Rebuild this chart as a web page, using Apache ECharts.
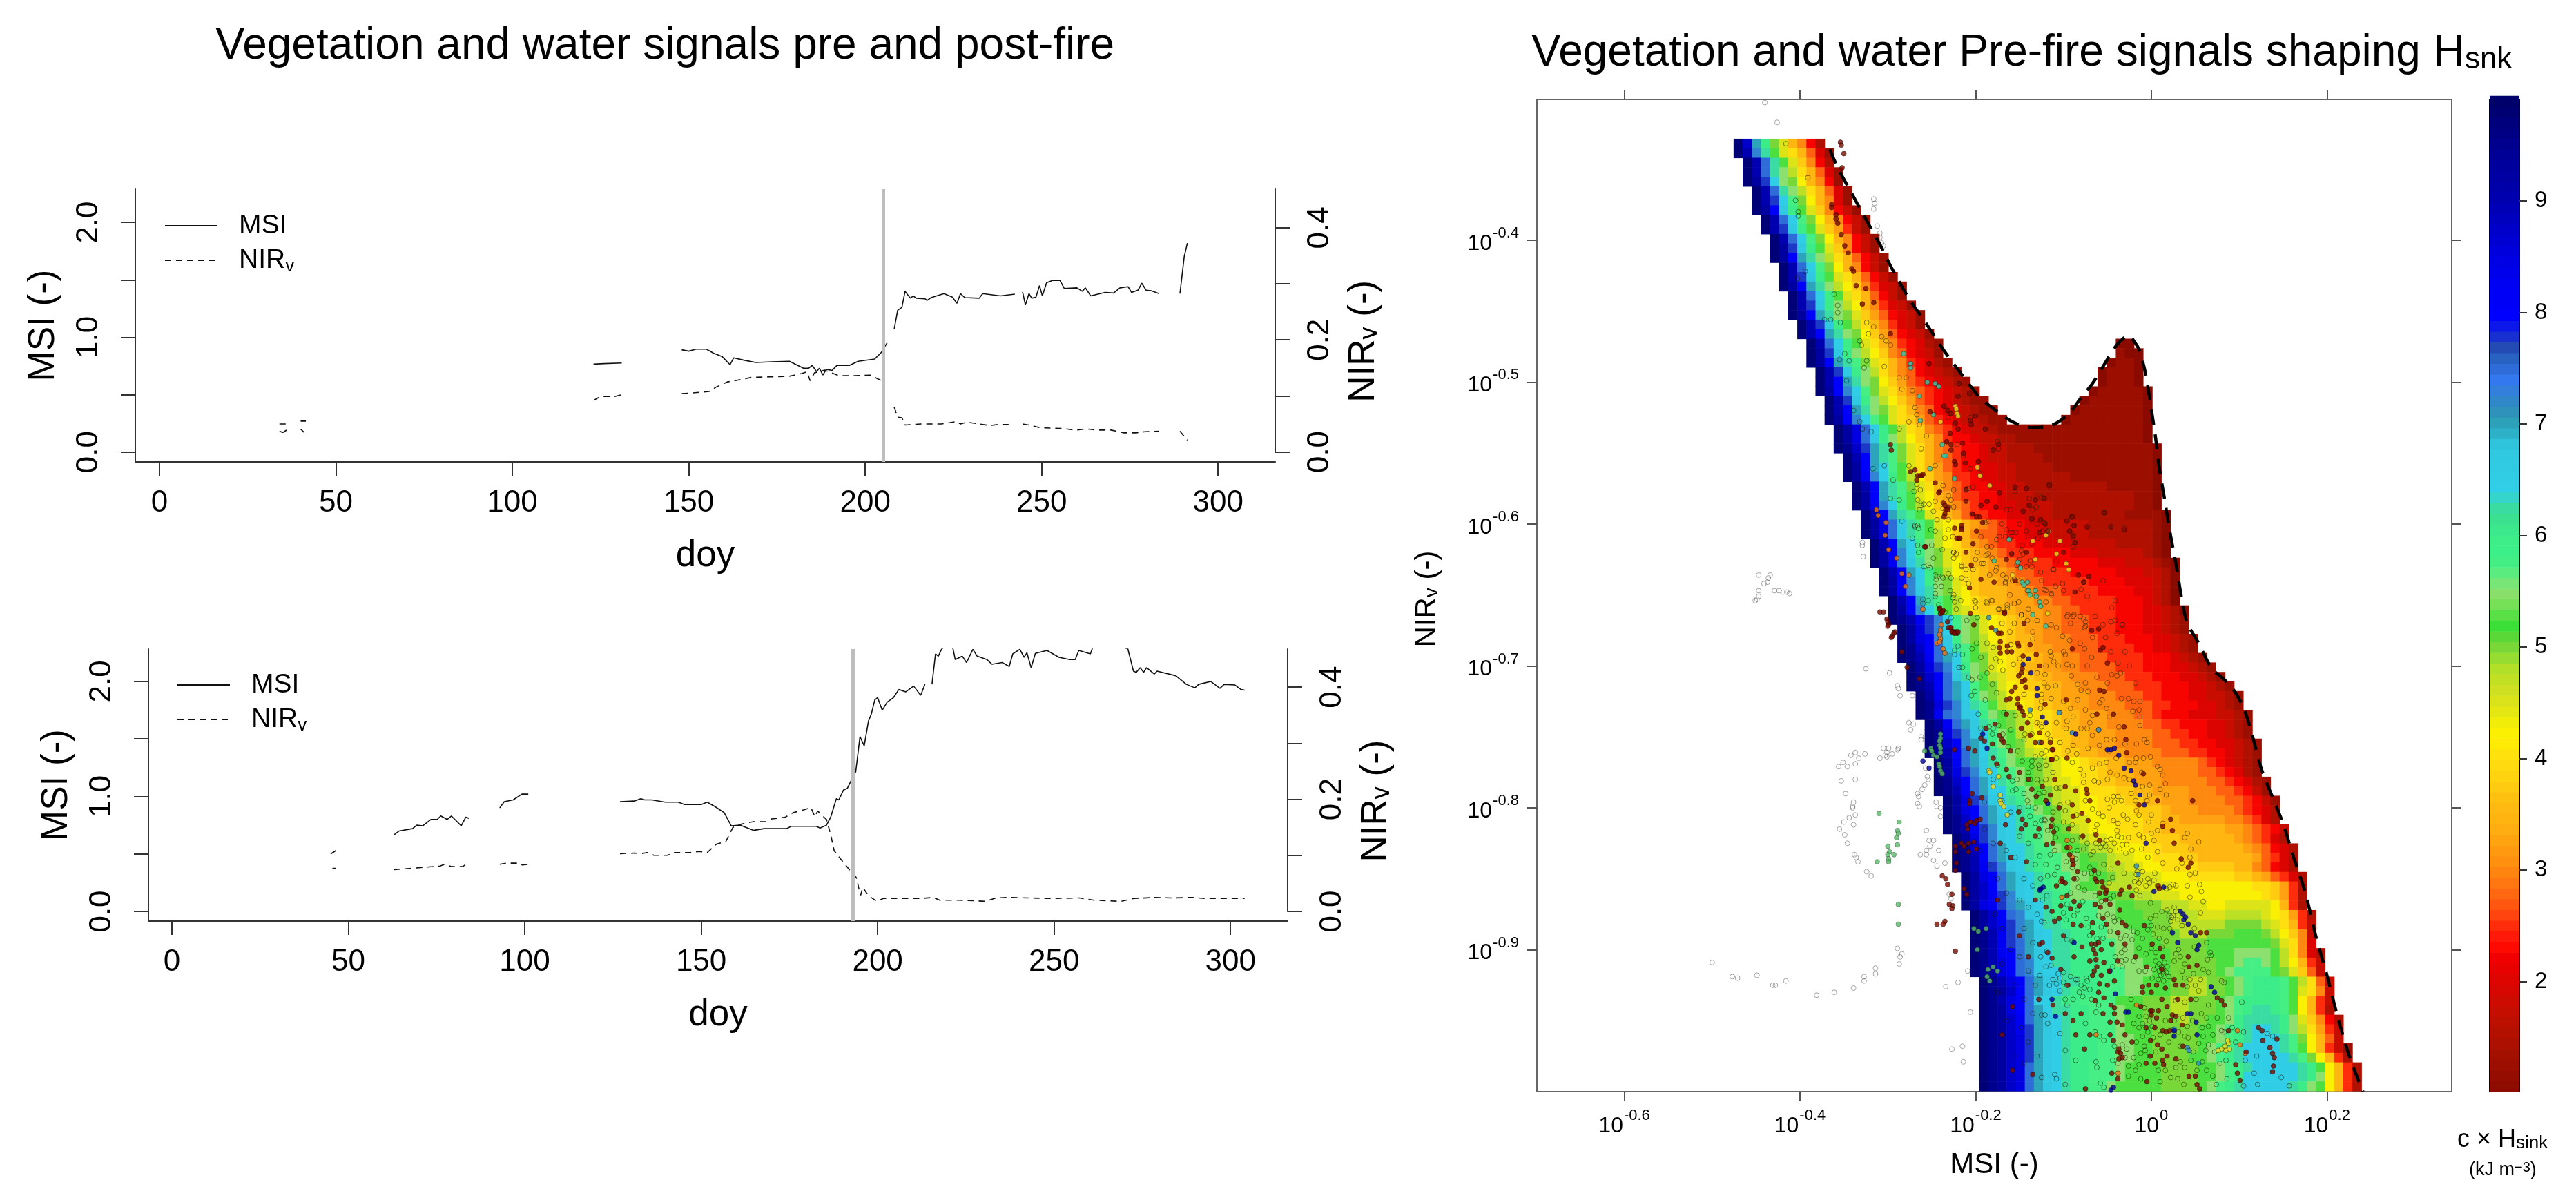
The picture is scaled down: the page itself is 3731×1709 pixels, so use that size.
<!DOCTYPE html>
<html>
<head>
<meta charset="utf-8">
<title>Vegetation and water signals</title>
<script src="https://cdn.jsdelivr.net/npm/echarts@6/dist/echarts.min.js"></script>
<style>html,body{margin:0;padding:0;background:#fff}#chart{width:3731px;height:1709px}</style>
</head>
<body>
<div id="chart"></div>
<script>
// day of year ticks, left and right axis ticks
var doyTicks = [0, 50, 100, 150, 200, 250, 300];
var msiTicks = [0, 0.5, 1, 1.5, 2];
var msiLabels = [0, 1, 2];
var nirTicks = [0, 0.1, 0.2, 0.3, 0.4];
var nirLabels = [0, 0.2, 0.4];
var fireDoyTop = 205.2;
var fireDoyBottom = 193;

// top panel, one inner list per unbroken stretch of line
var msiTop = [
  [[34,0.18],[35,0.17],[36,0.19]],
  [[40,0.2],[41,0.17]],
  [[123,0.765],[126,0.77],[131,0.775]],
  [[148,0.89],[150,0.878],[152,0.895],[155,0.895],[157,0.861],[159.5,0.83],[161.7,0.76],[162.7,0.82],[165.6,0.8],[169,0.78],[173.5,0.786],[178.5,0.79],[182.5,0.73],[184,0.73],[185,0.755],[186.2,0.7],[187,0.73],[188,0.67],[189,0.72],[190.6,0.71],[192,0.755],[195.6,0.755],[198,0.79],[202.7,0.81],[204.5,0.865],[206.2,0.95]],
  [[208.2,1.069],[209.2,1.235],[210.4,1.26],[211.3,1.4],[212.8,1.34],[213.6,1.36],[214.5,1.34],[217,1.335],[217.5,1.32],[218.7,1.345],[222.3,1.38],[224.7,1.35],[226,1.295],[227,1.38],[228.2,1.345],[232.3,1.34],[233.3,1.38],[238.3,1.36],[242.4,1.375]],
  [[244.6,1.395],[245.4,1.28],[246.4,1.38],[247.2,1.34],[248.4,1.35],[249.4,1.45],[250.2,1.36],[251.4,1.475],[253.2,1.495],[255.2,1.495],[256.4,1.425],[260,1.43],[261.5,1.4],[262.4,1.43],[263.9,1.36],[268,1.39],[270.4,1.385],[272.2,1.43],[274.5,1.44],[275.5,1.39],[277.3,1.41],[278.4,1.47],[279.6,1.41],[281,1.405],[283.3,1.38]],
  [[289.2,1.38],[290.4,1.7],[291.3,1.82]]
];
var nirTop = [
  [[34,0.05],[36,0.05]],
  [[40,0.055],[41.5,0.055]],
  [[123,0.092],[125,0.099],[129,0.099],[131,0.102]],
  [[148,0.104],[150.5,0.105],[155.8,0.108],[157.8,0.116],[161,0.125],[163,0.127],[167.7,0.133],[173,0.134],[178.4,0.135],[182,0.14],[183.5,0.143],[184.4,0.127],[185.6,0.141],[188.5,0.146],[192.6,0.136],[197,0.136],[201.5,0.137],[204.7,0.127],[205.7,0.104]],
  [[208.2,0.08],[209.2,0.062],[210.4,0.061],[211.3,0.048],[215.7,0.05],[221.6,0.05],[225.8,0.054],[227,0.05],[228.8,0.053],[232.3,0.05],[235.3,0.047],[237.7,0.049],[241.8,0.049]],
  [[244.6,0.05],[247.2,0.047],[249.6,0.043],[255.5,0.042],[259.6,0.039],[262.6,0.041],[265.5,0.039],[269.7,0.039],[273.3,0.034],[276.8,0.034],[279.2,0.036],[283.3,0.037]],
  [[289.2,0.037],[291.3,0.021]]
];

// bottom panel
var msiBottom = [
  [[45,0.5],[46.5,0.53]],
  [[63,0.667],[64.4,0.7],[68.2,0.72],[69.4,0.75],[71.1,0.745],[73.4,0.8],[75.2,0.8],[76.2,0.83],[78,0.8],[79.2,0.83],[82,0.745],[83.3,0.82],[84.2,0.81]],
  [[92.9,0.9],[94.2,0.955],[96.7,0.97],[99.2,1.02],[101,1.02]],
  [[127,0.955],[131,0.96],[132.9,0.98],[134,0.97],[136,0.97],[139.8,0.95],[143.5,0.95],[145.3,0.93],[147,0.93],[150,0.93],[151.7,0.95],[154,0.91],[156.5,0.86],[158.5,0.745],[161,0.75],[164.8,0.705],[167.8,0.72],[174.2,0.72],[175.5,0.74],[182.6,0.74],[183.7,0.725],[185.5,0.75],[186.7,0.82],[188.3,0.98],[189,0.97],[190.3,1.055],[191.4,1.07],[192.6,1.145],[193.8,1.216],[195,1.52],[196.2,1.44],[197.4,1.655],[198.2,1.715],[199.2,1.84],[200,1.86],[201.3,1.75],[202.7,1.82],[204.5,1.86],[206,1.93],[208,1.91],[210.2,1.96],[212.2,1.88],[213.4,1.975]],
  [[215.4,1.975],[216.4,2.24],[217.2,2.22],[218.1,2.28],[219.5,2.32],[221,2.31],[221.4,2.28],[222,2.19],[224,2.22],[225.2,2.165],[227,2.28],[228.2,2.22],[231,2.19],[232.4,2.15],[235.3,2.165],[237.3,2.13],[238.3,2.24],[240.3,2.28],[241.5,2.21],[242.3,2.25],[243.5,2.12],[244.7,2.245],[248,2.27],[251.4,2.21],[254.5,2.19],[256,2.19],[257,2.27],[260.3,2.24],[261,2.3],[263,2.33],[266,2.3],[267,2.33],[269,2.3],[270.9,2.285],[272.5,2.09],[273.3,2.08],[274.4,2.12],[275.4,2.08],[276.2,2.12],[278.4,2.065],[279.2,2.09],[284.5,2.05],[287.5,1.975],[289.9,1.945],[291,1.975],[294.4,2],[297,1.94],[298.2,1.975],[301.2,1.97],[303,1.93],[304,1.925]]
];
var nirBottom = [
  [[45.5,0.077],[46.5,0.077]],
  [[63,0.0746],[70,0.078],[76,0.081],[77.3,0.084],[79.2,0.08],[82.4,0.08],[83.3,0.084]],
  [[92.9,0.084],[94.8,0.086],[98,0.086],[99.2,0.083],[101,0.084]],
  [[127,0.103],[131,0.104],[133,0.103],[134.7,0.105],[136.6,0.1],[140.4,0.1],[142.2,0.105],[147,0.105],[149.4,0.107],[151.7,0.105],[154.3,0.12],[157,0.125],[159,0.15],[161,0.155],[163,0.158],[164.8,0.16],[168.3,0.16],[170,0.165],[173.8,0.168],[176,0.176],[179,0.181],[181.1,0.185],[182.2,0.169],[183,0.179],[185.5,0.164],[186.7,0.137],[187.7,0.108],[189.7,0.092],[191.8,0.076],[194,0.06],[194.6,0.043],[195.2,0.029],[195.8,0.043],[197.4,0.028],[199.8,0.018],[201.6,0.023],[212.2,0.023],[215.8,0.025],[217.6,0.02],[222.9,0.02],[227.7,0.019],[230.6,0.018],[233.6,0.024],[237,0.025],[249,0.023],[257.2,0.024],[261.4,0.02],[269,0.018],[272.6,0.023],[278.5,0.025],[283.3,0.024],[289.3,0.025],[292.8,0.023],[304,0.023]]
];

// right hand plot, exponents of ten
var msiExpTicks = [-0.6, -0.4, -0.2, 0, 0.2];
var nirExpTicks = [-0.9, -0.8, -0.7, -0.6, -0.5, -0.4];
var colorbarTicks = [2, 3, 4, 5, 6, 7, 8, 9];

// heat cells, one string per row from the top,
// one character per cell, level = 1 + parseInt(char, 36) / 4, spaces only for reading
var heatRowStart = [0,0,1,1,1,2,2,2,3,3,4,4,4,5,5,5,6,6,6,7,7,8,8,8,9,9,9,10,10,10,11,11,11,12,12,12,13,13,13,14,14,14,15,15,15,16,16,16,17,17,17,18,18,18,18,19,19,19,20,20,20,21,21,21,21,22,22,22,22,23,23,23,23,24,24,24,24,25,25,25,25,26,26,26,26,26,26,26,27,27,27,27,27,27,27,27,27,27,27,27];
var heatRows = [
'zvokgea852','zwplheca741','zwqlheb852','zwqlifca741','zxrmigda851',
'zwqlifca741','zwrmjgda841','zxsnkheb8531','zwqmjgda8531','zwrnkheb9631',
'zwqmjgda8531','zxrnkheb8531','zxsolifca7531','zwqmjgda8531','zwrnkheca7531',
'zxsolifdb86431','zwqmkheca7531','zwrnkifda86431','zxsoligeb975431','zwrnkhfca86431',
'zwsoligdb975431','zwqmkheca865421','zxrnkifdb875431','zxsoljgeca865421','zwrnkifca8754321',
'zwsoligdb97654321','zxspmjgeca87654321','zwrnkifdb976543211','zwsoligeca875443211','zxspmjhecb9765433211',
'zxuqmkhfcb876543321 1111111111111110',
'zxuqnkifdba865543322 111111111111110',
'zyvroljgeca8765543322 211111111111110',
'zwsoljgeca87655433222 21111111111110',
'zxsomjheca97655443322 22111111111110',
'zxtpmkhfdb98665443322 22221111111110',
'zwsoljgeca8765544332 22222222111110',
'zxsoljheda9766554333 22222222222110',
'zxtpmkhfdb9876554433 33222222222110',
'zwsoljheca976655443 332222222211110',
'zxuqnljhed ca98765544 3333322222 2210',
'zxuqnljhfdba 8776554443333 2222222 10',
'zwsomkifdc a98766555444 33333 2222 10',
'zxspmkigec ba9876665555 444 33333 2 10',
'zxtpnliged baa9876666 55555 444 333 2 1 0',
'zwsomkhfd cba998776666 55555 444 33 2 0',
'zxspmkige cbaa998776 6666 5555 444 3 2 0',
'zxspnlige dbaaa99877 76666 5555 44 3 2 0',
'zwsoljhf dcbaa999 8877 66666 555 4 3 2 0',
'zxspmkhf ecbbaa999 8877 6666 555 44 3 2 0',
'zywtrpmkig edcba99887 7766655544 321',
'zxurpmkige dcba998877 7666555443 21',
'zxuspnkigf dcbaa98887 7766655544 321',
'zyvsqnljhf eccba99887 7766665544 321',
'zywtqomjhg edcbba9988 7776666555 4321',
'zxurpmkige dcbaa99887 7776665554 4321',
'zyvsqnlihf eccbaa9988 8777666555 44321',
'zywsqomjhg edcbbaa998 8877766655 544321',
'zxtqomkigf dccbaa9998 8877766555 443321',
'zyurpnljhf edcbbaa998 8887776655 544321',
'zytqpnmkih gfdccbaa99 9888776555 4443321',
'zxtqonljhg feccbaa999 8888776655 544321',
'zyurpnmkih fedcbbaa99 9888877665 544321',
'zyvspomkih gedccbaa99 9888877766 5544321',
'zywsqomlji gfedcbbaa9 9988887776 6554321',
'zxtqonlkih hgfeddcbba a999888887 654321',
'zxurpnmkji hgfeddccba aa99988887 765421',
'zyvsqomlji hgfeedccbb aa99988888 7765421',
'zywsqommkj ihgfeedccc bbaa999988 8776531',
'zxurpnmlki hgfeeddccc bbaa999888 8776531',
'zxusqommlk ihgfeddccc cbbba99988 8876542',
'zyvsqonmlk jigfeeddcc ccbbaa9999 9887642',
'zywtrpnmlk jihgfedddc ccbbaaaaaa a9987653',
'zxurpnmlkj ihhgfeeddc ccbbbaaaaa a987642',
'zyvsqommlj jihhgffedd dccbbbaaaa aa987542',
'zywsqonmlk jjiihggfee ddcccbbaaa aaa97642',
'zywtrpnmlk jjiihhgffe eddccccbbb baa87542',
'zxusqonmlk jjiihhgffe eedddccccc bba97642',
'zxvsqonmlk jjihhgfffe eeeddddddd ddccb962',
'zxvtrpnmll kjiiihhggf feeedddddd dddcb962',
'zxutrponml kkjjjiihhg ggfffeedde eeeeda62',
'zxvsqpnmlk kjjjiihhhg ggfffeeeff ffedc962',
'zxvtrpomll kkjjjiihhh ggffffffgg ggfeca63',
'zywtrponml lkkjjiiihh gggfffgggh hhgfdb83',
'zywtrqonml lkkjjjiihh hggggghhhh hhhgec84',
'zywtsqonml lkkjjjiihh hhgggghhhi iiihfc842',
'zywusqpnml lkkkjjiiih hhggggghhi jjihfda63',
'zyxusqpnmm lkkkjjjiii hhggggghij jjjhgeb73',
'zywusqonml lkkjjjiihh hggffgghij kkkjhfc73',
'zyxvsqonml kkkjjjiihh hggffgghij kkkjhec83',
'zywusqnmlk kjjjjhhhgg gffggghijk kkkjhda63',
'zyxusqomll kkjjjihhgg gffggghijk llkjhda62',
'zyxvtqonml kkjjjihhgg ggfgghhikl lllkieb852',
'zyxvtronml kkjjjihhhg gggghhijkl mmlkifc963',
'zyxvuronml kkkjjiihhg gggghhijkl mmmljgda73',
'zyxvuronml kkkjjiihhg gggghijklm mmmljhda63 1',
'zyxvuronml kkkjjiihhg ggghhijklm mmmmljgda6 2',
'zyxvuqonml kkjjjihhhh gggghhijkl mmmmmlkhda 62',
'zyxvuqonml kkjjjihhhh gggghhijkm mmmmmlkida 62',
'zyxvuqonml kkjjihhhhh gggghijklm mmmmlkihda 62'
];
// the hump on the right, rows 21 to 29, separate from the band on the left
var peakRow = [21,22,23,24,25,26,27,28,29];
var peakStart = [42,42,41,40,40,39,38,37,36];
var peakCells = ['00','100','0110','01110','01110','0111110','01111110','011111110','0111111110'];

// upper limit drawn dashed, exponents in thousandths, x then y
var limitCurve = [-366,-336,-357,-349,-342,-366,-327,-383,-309,-403,-297,-418,-277,-440,-256,-459,-237,-477,-224,-488,-208,-501,-195,-511,-177,-520,-158,-528,-137,-532,-116,-531,-95,-523,-80,-511,-67,-501,-54,-488,-42,-476,-35,-471,-26,-467,-20,-471,-14,-477,-8,-490,-4,-503,0,-519,5,-540,9,-560,16,-586,21,-605,28,-628,35,-654,41,-670,53,-683,69,-702,82,-709,95,-718,106,-731,115,-749,125,-772,137,-791,150,-811,161,-833,175,-859,188,-892,200,-918,212,-947,226,-976,241,-1000];

// sites, exponents in thousandths, x then y
var greyOpenPts = [-440,-303,-426,-317,-316,-371,-315,-374,-316,-378,-312,-390,-309,-395,-309,-398,-307,-402,-305,-404,-447,-636,-434,-636,-436,-638,-441,-642,-437,-641,-447,-647,-429,-647,-424,-647,-419,-648,-415,-648,-412,-649,-447,-651,-449,-653,-451,-654,-329,-613,-329,-615,-328,-623,-325,-702,-298,-705,-289,-714,-288,-716,-286,-721,-272,-721,-276,-740,-271,-741,-274,-745,-262,-750,-262,-752,-288,-758,-289,-759,-299,-758,-305,-758,-301,-761,-295,-762,-303,-763,-309,-765,-301,-764,-326,-762,-337,-761,-342,-763,-333,-765,-351,-768,-337,-769,-356,-771,-346,-771,-353,-781,-337,-780,-348,-790,-339,-796,-340,-799,-340,-800,-337,-805,-344,-807,-350,-810,-339,-812,-257,-772,-255,-778,-254,-780,-258,-784,-261,-787,-266,-790,-265,-792,-266,-797,-264,-799,-245,-796,-244,-799,-240,-800,-240,-806,-355,-815,-349,-819,-346,-825,-338,-833,-336,-835,-334,-838,-324,-845,-319,-848,-256,-816,-253,-823,-248,-823,-252,-827,-256,-830,-263,-833,-256,-833,-242,-830,-248,-837,-244,-841,-235,-839,-230,-861,-228,-864,-289,-899,-284,-903,-286,-905,-287,-910,-314,-913,-314,-917,-327,-919,-327,-922,-339,-927,-361,-930,-381,-932,-416,-922,-431,-925,-428,-925,-449,-918,-471,-920,-477,-919,-500,-909,-234,-926,-220,-923,-209,-915,-206,-944,-227,-970,-215,-968,-214,-979];
var openPts = [-96,-665,-89,-665,-81,-665,-75,-669,-76,-673,-108,-673,-101,-679,-93,-682,-81,-684,-76,-688,-67,-680,-39,-677,-33,-671,-46,-669,-114,-671,-111,-697,-98,-692,-96,-699,-68,-694,-73,-700,-38,-698,-121,-706,-114,-693,-45,-706,-35,-705,-39,-707,-122,-712,-109,-714,-91,-707,-84,-713,-80,-717,-72,-718,-84,-724,-114,-723,-125,-720,-56,-724,-34,-723,-26,-723,-13,-725,-51,-730,-59,-726,-21,-732,-14,-731,-13,-736,-67,-735,-75,-731,-89,-736,-104,-733,-126,-730,-96,-739,-108,-740,-48,-736,-37,-743,-13,-742,-5,-754,-8,-752,-73,-744,-67,-749,-80,-744,-97,-744,-118,-748,-125,-743,-104,-754,-89,-756,-59,-756,-51,-752,-42,-752,-17,-755,-1,-764,-17,-765,-18,-768,-90,-768,-81,-773,-77,-777,-67,-772,-59,-769,-51,-768,-47,-775,-39,-777,-31,-779,7,-771,10,-773,13,-777,-112,-775,-127,-772,-2,-784,-104,-786,-95,-796,-77,-782,-65,-781,-60,-782,-50,-794,-42,-796,-38,-792,-34,-795,-23,-790,-2,-791,10,-787,16,-783,17,-791,-122,-789,-108,-786,-67,-801,-60,-804,-43,-809,-38,-811,-32,-805,-17,-802,-14,-805,-3,-810,7,-816,13,-811,-125,-809,-121,-809,-104,-798,-98,-802,-43,-792,-64,-816,-51,-823,-46,-822,-39,-816,-34,-821,-26,-821,-14,-819,-9,-821,3,-823,41,-818,38,-821,54,-824,45,-829,-90,-823,-80,-821,-73,-825,-109,-821,-47,-830,-29,-832,-22,-830,-11,-829,-4,-835,7,-831,13,-839,44,-835,35,-839,29,-843,-77,-829,-69,-833,-115,-833,-127,-834,-54,-840,-46,-843,-31,-846,-17,-847,-12,-851,-4,-850,4,-846,44,-847,50,-846,25,-854,28,-855,-76,-846,-85,-850,-118,-848,-110,-847,-126,-850,-17,-858,-13,-862,-1,-867,17,-857,21,-856,41,-855,44,-863,55,-854,57,-859,59,-866,56,-874,-76,-858,-83,-856,-43,-862,-119,-862,-124,-865,-1,-878,5,-876,12,-873,20,-876,23,-877,25,-876,-122,-881,-110,-879,-97,-879,-74,-878,-43,-877,-37,-879,-25,-884,-20,-887,-16,-888,7,-884,14,-885,21,-885,35,-883,49,-885,-96,-893,-90,-894,-34,-902,-30,-900,-14,-899,0,-899,17,-894,28,-903,31,-900,49,-898,63,-895,67,-902,68,-904,-119,-901,-114,-911,7,-912,9,-915,12,-912,14,-917,13,-913,18,-912,-7,-915,-20,-908,-14,-915,-34,-908,-86,-921,-80,-925,-76,-927,-73,-922,-112,-921,-104,-920,-100,-923,35,-915,59,-914,65,-916,64,-907,-98,-935,-96,-939,-89,-935,-125,-946,-121,-946,-118,-952,-63,-944,-60,-939,-23,-935,-8,-941,28,-936,38,-937,54,-929,51,-935,65,-939,83,-923,80,-922,103,-937,-75,-952,-64,-958,-59,-961,-54,-964,-14,-955,-10,-961,1,-954,38,-961,41,-954,59,-961,65,-954,80,-957,83,-958,105,-958,132,-959,138,-961,-104,-959,-98,-971,-86,-978,-63,-979,-62,-983,-30,-976,-20,-976,-12,-973,-7,-971,33,-979,65,-967,62,-971,96,-965,107,-978,120,-975,117,-987,121,-995,148,-990,157,-996,-110,-988,-108,-991,-98,-995,-58,-994,-54,-997,-26,-989,-12,-991,10,-993,30,-991,37,-995,70,-989,74,-995,86,-991,105,-996,
-267,-572,-270,-577,-263,-576,-266,-583,-264,-590,-259,-586,-253,-586,-248,-591,-244,-597,-237,-589,-225,-576,-228,-583,-225,-588,-269,-602,-265,-603,-251,-604,-246,-605,-235,-610,-231,-604,-272,-610,-265,-620,-266,-615,-250,-615,-238,-618,-225,-620,-225,-624,-248,-624,-216,-630,-211,-632,-203,-632,-198,-620,-188,-622,-176,-631,-166,-641,-181,-624,-246,-636,-245,-639,-246,-644,-246,-649,-259,-630,-252,-631,-238,-637,-231,-635,-229,-647,-225,-650,-224,-655,-217,-654,-201,-654,-187,-656,-181,-654,-174,-660,-198,-666,-260,-653,-254,-654,-260,-656,-242,-657,-235,-662,-228,-666,-222,-660,-210,-668,-161,-676,-148,-664,-141,-668,-135,-676,-135,-681,-204,-688,-199,-684,-187,-684,-180,-687,-194,-694,-215,-692,-224,-692,-220,-686,-224,-689,-177,-695,-172,-697,-157,-699,-219,-701,-215,-701,-208,-708,-204,-710,-195,-708,-187,-705,-182,-701,-169,-703,-181,-713,-176,-719,-201,-718,-205,-721,-189,-724,-197,-734,-168,-733,-194,-744,-185,-743,-180,-744,-174,-742,-181,-748,-169,-748,-163,-757,-152,-760,-145,-752,-144,-748,-136,-748,-127,-741,-169,-753,-147,-767,-136,-767,-136,-771,-132,-764,-122,-764,-125,-762,-153,-780,-158,-781,-138,-780,-130,-780,-125,-782,-120,-780,-154,-787,-158,-788,-141,-795,-140,-799,-138,-806,-132,-811,-190,-796,-122,-808,-112,-803,-237,-573,-211,-576,-203,-574,-185,-598,-158,-606,-166,-609,-148,-619,-138,-626,-120,-647,-130,-668,-151,-655,-161,-650,-156,-656,-164,-657,-141,-647,-129,-610,-122,-599,-112,-632,-114,-650,-147,-615,-139,-582,-125,-581,-165,-590,-155,-577,
-416,-332,-391,-356,-405,-372,-402,-380,-402,-383,-394,-422,-403,-427,-372,-456,-365,-456,-361,-438,-357,-446,-357,-451,-354,-458,-332,-471,-330,-474,-324,-485,-327,-490,-344,-485,-355,-484,-349,-480,-347,-499,-339,-520,-332,-528,-329,-533,-319,-535,-317,-561,-304,-559,-297,-582,-294,-569,-287,-583,-284,-598,-269,-601,-324,-458,-322,-466,-316,-461,-307,-468,-302,-471,-297,-474,-304,-489,-287,-497,-284,-505,-272,-506,-279,-497,-269,-518,-267,-523,-287,-533,-276,-528,-264,-530,-256,-538,-262,-547,-246,-559,-276,-559,-231,-580,-246,-584,-209,-575,-206,-561,-196,-564,-221,-544,-214,-552,-231,-525,-224,-530,-206,-525,-175,-542,-174,-547,-155,-574,-116,-572,-131,-588,-91,-595,-89,-608,-53,-592,-31,-603,-124,-605,-136,-597,-176,-611,-161,-610,-136,-614,-108,-626,-89,-616,-146,-621,-126,-634,-156,-639,-186,-621,-191,-628,-216,-629,-211,-639,-244,-637,-246,-651,-239,-644,-254,-629,-266,-601,-262,-587,-226,-609,-231,-597,-189,-599,
-111,-632,-109,-644,-101,-642,-100,-647,-80,-646,-73,-651,-77,-641,-55,-640,-41,-654,-45,-659,-64,-665,-95,-664,-88,-664,-77,-667,-92,-670,-75,-672,-55,-671,-33,-671,-41,-668,-122,-646,-114,-649,-120,-655,-136,-630,-137,-626,-160,-606,-154,-606,-173,-609,-165,-604,-187,-616,-182,-616,-194,-609,-200,-625,-193,-628,-184,-636,-177,-633,-169,-636,-166,-642,-165,-638,-153,-629,-148,-664,-156,-670,-164,-659,-173,-660,-182,-654,-188,-655,-200,-655,-200,-659,-208,-642,-216,-638,-225,-620,-222,-621,-228,-638,-237,-638,-226,-652,
5,-908,9,-910,15,-909,11,-918,3,-914,17,-916,8,-921,14,-922,20,-919,1,-920,-106,-917,-100,-916,-108,-924,-96,-925,-104,-929,-92,-919,-82,-930,-78,-933,-70,-928,-74,-920,-84,-921,-68,-935,-41,-905,-33,-912,-44,-912,-29,-907,-14,-853,-6,-855,-2,-853,3,-851,-19,-852,7,-855,-10,-845,-16,-845,18,-872,26,-870,28,-873,22,-880,30,-879,-38,-820,-33,-826,-42,-825,-36,-829,-28,-826,-63,-825,-58,-828,-66,-831,-52,-827,-113,-812,-118,-816,-108,-815,-92,-832,-86,-836,-97,-838,-84,-830,-90,-842,-60,-846,-68,-846,-48,-853,-44,-849,-57,-866,-64,-862,-47,-864,-92,-860,-84,-872,-78,-866,-96,-868,-88,-876,-100,-874,-70,-890,-62,-892,-57,-884,-60,-876,-55,-892,-72,-884,-47,-887,-42,-880,-50,-875,-35,-892,-29,-890,-22,-893,-4,-886,2,-889,9,-892,0,-883,-10,-892,12,-898,5,-902,-6,-903,26,-908,33,-905,38,-910,44,-921,48,-917,50,-925,41,-926,56,-921,38,-920,-14,-947,-10,-952,-6,-947,-20,-952,-4,-958,-2,-950,-17,-965,-8,-968,2,-962,10,-960,16,-950,20,-965,26,-950,31,-958,36,-948,33,-968,42,-962,47,-950,48,-972,54,-966,57,-945,58,-955,63,-948,70,-960,75,-948,72,-972,78,-980,85,-978,88,-948,92,-955,-42,-968,-33,-967,-28,-970,-44,-978,-26,-982,-38,-980,-18,-985,-14,-981,-2,-975,5,-972,8,-985,16,-985,22,-990,28,-983,38,-983,45,-978,52,-985,58,-979,63,-985,-126,-905,-120,-912,-127,-918,-116,-925,
-100,-690,-106,-700,-90,-700,-75,-712,-62,-708,-50,-712,-52,-680,-46,-690,-30,-690,-25,-700,-18,-712,-20,-725,-100,-725,-92,-730,-70,-740,-60,-745,-48,-760,-30,-755,-25,-768,-9,-765,-11,-775,-95,-760,-108,-765,-115,-752,-120,-760,-85,-762,-72,-758,-40,-765,-50,-780,-25,-780,-18,-795,-10,-785,-5,-795,0,-805,0,-818,-18,-812,-27,-808,-48,-800,-55,-806,-75,-795,-85,-805,-90,-812,-100,-810,-62,-812,-55,-825,-70,-842,-110,-830,-107,-842,-120,-840,
-170,-600,-160,-590,-150,-600,-142,-605,-135,-590,-130,-600,-150,-625,-158,-640,-150,-640,-142,-630,-140,-660,-125,-640,-170,-670,-160,-685,-150,-695,-145,-720,-130,-705,-125,-725,-138,-735,-130,-740,-155,-735,-160,-745,-120,-700,-115,-690,-118,-715,-128,-770,-140,-775,-120,-770,-128,-790,-145,-790,-150,-800,-132,-800,-120,-795,-175,-770,-180,-780,-170,-795,-160,-803,-150,-820,-140,-825,-132,-840,-128,-820,-165,-830,-155,-835,-145,-850,-135,-855,-150,-865,-140,-870,-130,-875,-125,-880,-145,-885,-135,-895,-150,-905,-140,-915,-132,-925,-160,-900,-170,-885,-178,-875,-165,-860,-175,-850,-185,-840,-180,-825,-190,-815,-195,-830,-155,-925,-145,-935,-135,-945,-148,-955,-140,-965,-130,-975,-125,-990,-145,-980,-155,-975,-165,-950,-175,-930,-170,-910];
var darkRedPts = [-354,-331,-353,-333,-350,-339,-352,-349,-364,-375,-364,-377,-359,-382,-359,-385,-357,-388,-353,-396,-349,-404,-345,-409,-341,-420,-339,-422,-336,-432,-329,-445,-325,-434,-316,-444,-297,-466,-297,-544,-296,-548,-274,-563,-269,-562,-266,-566,-267,-569,-261,-566,-241,-577,-246,-571,-234,-590,-231,-588,-216,-603,-219,-610,-204,-593,-196,-595,-257,-616,-207,-645,-179,-641,-167,-662,-231,-673,-221,-677,-226,-676,-171,-677,
-309,-662,-305,-662,-301,-667,-300,-669,-299,-671,-300,-672,-292,-676,-293,-677,-295,-679,-296,-680,-284,-690,-278,-701,-264,-709,-205,-810,-201,-811,-209,-815,-216,-825,-213,-827,-223,-827,-223,-831,-208,-825,-202,-824,-199,-829,-208,-831,-222,-839,-223,-844,-238,-848,-234,-850,-232,-854,-227,-861,-230,-868,-226,-869,-227,-871,-244,-882,-235,-880,-237,-882,-223,-901,-213,-857,-210,-861,
-263,-566,-260,-565,-242,-578,-237,-585,-235,-587,-232,-590,-235,-593,-236,-595,-216,-601,-216,-604,-224,-603,-221,-610,-218,-610,-203,-614,-194,-639,-258,-616,-205,-629,-211,-620,-204,-593,-199,-595,-192,-599,-194,-587,-187,-584,-177,-588,-211,-576,-211,-584,-224,-556,-223,-558,-214,-550,-212,-557,-197,-556,-228,-548,-228,-544,-233,-542,-223,-529,-220,-533,-229,-536,-215,-543,-206,-527,-205,-530,-200,-524,-189,-533,-174,-544,-180,-548,-236,-517,-232,-520,-228,-522,-252,-521,-219,-501,-207,-508,-220,-510,-253,-487,-199,-605,-237,-661,-241,-659,-238,-662,-240,-663,-228,-673,-225,-676,-222,-676,-159,-621,-142,-620,-100,-620,-87,-648,-89,-609,-118,-605,-127,-606,-121,-600,-142,-575,-122,-582,-132,-583,-139,-587,-146,-591,-173,-578,-155,-574,-116,-573,-54,-592,-73,-602,-46,-602,-31,-604,-96,-598,-90,-595,-88,-601,-93,-605,-87,-613,-126,-597,-136,-596,-71,-637,-83,-636,-77,-641,
-241,-660,-238,-662,-232,-669,-229,-673,-227,-676,-224,-677,-220,-676,-206,-663,-202,-671,-182,-673,-174,-677,-172,-683,-173,-687,-164,-686,-159,-690,-164,-690,-172,-691,-152,-684,-151,-686,-167,-663,-146,-693,-147,-702,-148,-705,-151,-707,-144,-710,-147,-711,-143,-715,-159,-718,-165,-724,-161,-723,-152,-723,-152,-727,-149,-729,-147,-732,-145,-735,-141,-740,-165,-734,-148,-744,-188,-744,-178,-741,-173,-749,-170,-752,-168,-754,-194,-751,-190,-753,-181,-755,-224,-759,-208,-758,-201,-760,-180,-765,-176,-769,-165,-773,-162,-778,-204,-790,-207,-795,-207,-797,-193,-793,-210,-812,-206,-810,-199,-809,-195,-808,-166,-812,-151,-803,-147,-808,-143,-812,-136,-787,-131,-792,-124,-785,-115,-791,-138,-749,-127,-747,-132,-754,-115,-754,-113,-759,-114,-766,-125,-754,-121,-727,-127,-700,-131,-692,
-90,-688,-58,-689,-55,-687,-50,-698,-60,-674,-68,-675,-97,-724,-59,-717,-54,-718,-31,-743,-43,-734,-62,-734,-113,-766,-112,-759,-96,-765,-74,-787,-73,-790,-70,-795,-86,-788,-90,-798,-89,-806,-79,-804,-72,-809,-113,-808,-114,-813,-111,-817,-119,-826,-94,-815,-96,-828,-93,-833,-90,-837,-89,-840,-65,-844,-59,-823,-63,-819,-38,-839,-102,-850,-101,-852,-98,-853,-64,-850,-62,-852,-56,-852,-55,-856,-51,-858,-52,-860,-59,-860,-34,-858,-36,-861,-25,-856,-22,-862,8,-855,9,-857,-96,-862,-88,-866,-82,-869,-92,-871,-103,-869,-113,-873,-105,-878,-89,-882,-80,-883,-67,-881,-67,-888,-51,-882,-38,-888,-33,-881,-29,-883,-8,-883,1,-896,-127,-896,-124,-895,-118,-902,-113,-906,-103,-914,-79,-898,-68,-896,-63,-896,-64,-903,-63,-907,-65,-915,-67,-918,-54,-909,-48,-915,-59,-924,-38,-908,-10,-926,-10,-930,10,-899,13,-905,12,-914,42,-905,43,-912,52,-911,26,-921,28,-925,16,-927,-64,-936,-54,-934,-46,-939,-42,-941,-112,-939,-98,-945,-89,-950,-47,-951,-39,-951,-33,-953,-1,-943,1,-943,8,-943,0,-946,24,-946,28,-947,35,-953,13,-957,17,-958,21,-957,4,-955,-1,-964,7,-967,-37,-970,-35,-973,-38,-972,-33,-976,-37,-977,-76,-970,-86,-960,-47,-960,-43,-964,4,-980,13,-978,14,-981,28,-977,43,-989,50,-989,-5,-993,-45,-987,-38,-991,-75,-998,52,-995,55,-998,88,-957,75,-934,80,-936,83,-939,98,-987,101,-992,122,-955,126,-957,127,-964,143,-963,135,-969,138,-973,140,-976,139,-982,138,-986,108,-972,96,-981,47,-795,22,-808,24,-816,13,-813,34,-836,45,-839,42,-842,26,-825,63,-888,56,-888,7,-795,-14,-798,-9,-776,-29,-752,-28,-761,
-52,-865,-47,-868,-58,-870,-55,-878,-64,-868,-60,-895,-66,-900,-57,-900,-62,-912,-70,-908,-57,-918,-50,-925,-60,-930,-42,-922,-45,-896,-30,-896,-36,-872,-18,-905,-3,-925,-12,-940,-6,-955,0,-930,-5,-912,6,-925,12,-935,18,-940,22,-950,30,-935,36,-925,45,-935,6,-948,-1,-975,-6,-980,12,-970,18,-975,36,-968,-42,-945,-30,-960,-22,-965,-55,-945,-70,-960,-80,-945,-95,-925,-88,-905,-100,-890,-110,-880,-120,-870,-108,-855,-88,-850,-78,-820,-84,-845,-112,-825,-105,-800,-98,-785,-110,-780,-120,-795,-128,-815,-132,-820,-140,-780,-150,-775,-160,-760,-150,-730,-155,-715,-138,-685,-145,-670,-155,-640,-165,-625,-132,-865,-142,-838,-148,-815,-160,-835,-172,-825,-175,-865,-150,-890,-140,-905,-128,-935,-158,-940,-170,-960,-158,-985,-135,-988];
var navyPts = [-260,-767,-253,-772,-192,-748,-187,-758,-140,-695,-146,-699,-137,-705,-130,-716,-130,-721,-124,-736,-120,-740,-118,-797,-46,-759,-50,-759,-42,-758,-37,-763,-31,-772,-23,-774,-20,-781,-18,-784,-13,-791,-8,-798,33,-873,36,-875,39,-877,37,-879,42,-882,45,-888,50,-890,54,-897,52,-900,24,-888,30,-895,3,-859,14,-856,-6,-825,-86,-748,-126,-857,-123,-856,-127,-858,-88,-895,-41,-931,-113,-935,-109,-947,-29,-944,-26,-944,41,-945,45,-945,51,-951,52,-960,68,-926,72,-930,-43,-997,-46,-999,26,-957,26,-961,-47,-915];
var greenPts = [-310,-804,-287,-810,-289,-816,-288,-818,-290,-821,-289,-826,-300,-827,-298,-831,-300,-833,-293,-833,-299,-836,-312,-838,-299,-838,-288,-868,-288,-882,-258,-760,-240,-748,-240,-751,-241,-753,-241,-756,-240,-758,-240,-761,-251,-758,-250,-760,-248,-763,-244,-764,-242,-769,-241,-771,-240,-774,-238,-776,-202,-885,-197,-887,-188,-885,-198,-900,-186,-914,-180,-912,-175,-915,-187,-919,-184,-922];
var tealPts = [-152,-627,-149,-631,-147,-641,-141,-641,-145,-643,-140,-647,-138,-650,-132,-647,-131,-651,-127,-655,-126,-658,-135,-664,-120,-672,-162,-611,-179,-626,-238,-544,-234,-552,-224,-568,-252,-561,-263,-527,-282,-480,-274,-487,-274,-490,-264,-510,-236,-552,-248,-523,-255,-500,-246,-501,-242,-503];
var yellowPts = [-223,-517,-222,-519,-221,-522,-220,-524,-135,-612,-184,-573,-198,-560,-195,-566,-240,-528,-104,-612,-108,-621,-97,-628,-94,-632,-132,-625,-158,-636,-117,-605,-120,-608,-118,-663,-185,-774,-184,-775,-174,-778,-180,-785,-172,-791,-172,-795,-171,-797,-168,-799,-164,-805,80,-970,84,-968,88,-966,85,-971,89,-970,87,-964,76,-971];
var orangePts = [-313,-590,-311,-594,-302,-599,-303,-608,-299,-618,-290,-624,-284,-635,-276,-636,-280,-644,-260,-660,-239,-671,-240,-675,-241,-678,-240,-681,-244,-684,-237,-688,-235,-691,-241,-683,-96,-823,-93,-828,-90,-835,-89,-840,-103,-852,-102,-863,-17,-939,-63,-960,-38,-987,98,-957,101,-967,107,-973];
var steelPts = [-185,-666,-177,-675,-138,-731,-127,-754,-90,-747,-105,-733,-60,-745,-17,-841,-15,-847,26,-956,41,-969,43,-971,54,-980];

// colours of the bar, level then colour
var paletteLevels = [1,1.2,1.4,1.6,1.8,2,2.2,2.3,2.4,2.5,2.6,2.8,3,3.2,3.4,3.6,3.8,4,4.2,4.4,4.6,4.8,4.9,5,5.1,5.2,5.35,5.5,5.6,5.7,5.8,6,6.1,6.2,6.3,6.4,6.8,6.9,7,7.05,7.2,7.4,7.5,7.6,7.65,7.75,7.85,7.95,8.3,8.6,9,9.4,9.7,9.91];
var paletteColors = ['#8a0a00','#980e00','#a81000','#b81000','#cc0c00','#dc0400','#ee0000','#ff0800','#ff1808','#ff2c0c','#ff4410','#ff6a10','#ff8810','#ff9c10','#ffb010','#ffbc10','#ffd010','#ffde10','#fff200','#e8e810','#d0e020','#b4e028','#98dc30','#78d838','#58d838','#38e038','#70e050','#8ce070','#70e878','#50ee80','#3cf088','#3cec88','#3ce490','#3cdf90','#38d8b8','#30d0e8','#30c8e0','#2cb4cc','#2ca4bc','#2c98b0','#3088c8','#3478f0','#2e6cd8','#2862c0','#2855a8','#1c38c8','#1020e0','#0000ff','#0000f0','#0000d8','#0000b0','#000098','#00007c','#000068'];

var FONT = '"Liberation Sans", Arial, sans-serif';
var CELL_DX = 0.01036, CELL_DY = 0.00671;
var CELL_X0 = -0.4756, CELL_Y0 = -0.3285;

function levelColor(v) {
  for (var i = 1; i < paletteLevels.length; i++) {
    if (v <= paletteLevels[i]) {
      var t = (v - paletteLevels[i - 1]) / (paletteLevels[i] - paletteLevels[i - 1]);
      return echarts.color.lerp(t, [paletteColors[i - 1], paletteColors[i]]);
    }
  }
  return paletteColors[paletteColors.length - 1];
}

function joinSegments(segments) {
  var out = [];
  segments.forEach(function (s, i) {
    if (i > 0) out.push([NaN, NaN]);
    out = out.concat(s);
  });
  return out;
}

function pairs(flat) {
  var out = [];
  for (var i = 0; i + 1 < flat.length; i += 2) out.push([flat[i] / 1000, flat[i + 1] / 1000]);
  return out;
}

function cellsFromRow(out, row, start, text) {
  text = text.replace(/ /g, '');
  for (var k = 0; k < text.length; k++) {
    var c = start + k;
    out.push([CELL_X0 + (c + 0.5) * CELL_DX, CELL_Y0 - (row + 0.5) * CELL_DY, 1 + parseInt(text.charAt(k), 36) / 4]);
  }
}

var heatCells = [];
heatRows.forEach(function (text, r) { cellsFromRow(heatCells, r, heatRowStart[r], text); });
peakCells.forEach(function (text, i) { cellsFromRow(heatCells, peakRow[i], peakStart[i], text); });

var barCells = [];
for (var lv = 1.014; lv < 9.91; lv += 0.096) barCells.push([lv]);

function renderCell(params, api) {
  var a = api.coord([api.value(0) - CELL_DX / 2, api.value(1) + CELL_DY / 2]);
  var b = api.coord([api.value(0) + CELL_DX / 2, api.value(1) - CELL_DY / 2]);
  return {type: 'rect', shape: {x: a[0], y: a[1], width: b[0] - a[0] + 0.6, height: b[1] - a[1] + 0.6},
    style: {fill: levelColor(api.value(2))}};
}

function renderBar(params, api) {
  var a = api.coord([0, api.value(0) + 0.096]);
  var b = api.coord([1, api.value(0)]);
  return {type: 'rect', shape: {x: a[0], y: a[1], width: b[0] - a[0], height: b[1] - a[1] + 0.6},
    style: {fill: levelColor(api.value(0) + 0.048)}};
}

// axes of the two time series panels
function doyAxis(grid, min, max, show) {
  return {type: 'value', gridIndex: grid, min: min, max: max, show: show,
    name: 'doy', nameLocation: 'middle', nameGap: 110, nameTextStyle: {fontFamily: FONT, fontSize: 53, color: '#000'},
    axisLine: {show: true, onZero: false, lineStyle: {color: '#333', width: 2}},
    axisTick: {show: true, length: 20, customValues: doyTicks, lineStyle: {color: '#333', width: 2}},
    axisLabel: {show: true, customValues: doyTicks, margin: 38, fontFamily: FONT, fontSize: 44, color: '#000'},
    splitLine: {show: false}};
}

function msiAxis(grid, min, max) {
  return {type: 'value', gridIndex: grid, min: min, max: max, position: 'left',
    name: 'MSI (-)', nameLocation: 'middle', nameRotate: 90, nameGap: 106, nameTextStyle: {fontFamily: FONT, fontSize: 53, color: '#000'},
    axisLine: {show: true, onZero: false, lineStyle: {color: '#333', width: 2}},
    axisTick: {show: true, length: 21, customValues: msiTicks, lineStyle: {color: '#333', width: 2}},
    axisLabel: {show: true, rotate: 90, customValues: msiLabels, margin: 45, fontFamily: FONT, fontSize: 44, color: '#000',
      formatter: function (v) { return v.toFixed(1); }},
    splitLine: {show: false}};
}

function nirAxis(grid, max) {
  return {type: 'value', gridIndex: grid, min: 0, max: max, position: 'right',
    name: 'NIR{sub|v} (-)', nameLocation: 'middle', nameRotate: 90, nameGap: 102,
    nameTextStyle: {fontFamily: FONT, fontSize: 53, color: '#000', padding: [0, 60, 0, 0],
      rich: {sub: {fontFamily: FONT, fontSize: 36, verticalAlign: 'bottom', color: '#000'}}},
    axisLine: {show: true, onZero: false, lineStyle: {color: '#333', width: 2}},
    axisTick: {show: true, length: 21, customValues: nirTicks, lineStyle: {color: '#333', width: 2}},
    axisLabel: {show: true, rotate: 90, customValues: nirLabels, margin: 43, fontFamily: FONT, fontSize: 44, color: '#000',
      formatter: function (v) { return v.toFixed(1); }},
    splitLine: {show: false}};
}

function expLabel(v) {
  return '{m|10}{s|' + (v === 0 ? '0' : String(v)) + '}';
}
var expRich = {
  m: {fontFamily: FONT, fontSize: 32, color: '#000', lineHeight: 42, verticalAlign: 'bottom'},
  s: {fontFamily: FONT, fontSize: 22, color: '#000', lineHeight: 42, verticalAlign: 'top', padding: [0, 0, 0, 1]}
};
var boxTick = {show: true, length: 14, lineStyle: {color: '#555', width: 2}};

function traceSeries(name, data, x, y, dashed) {
  return {name: name, type: 'line', xAxisIndex: x, yAxisIndex: y, data: data, symbol: 'none', silent: true,
    connectNulls: false, clip: true, itemStyle: {color: '#111'},
    lineStyle: {color: '#111', width: 1.6, type: dashed ? [9, 7] : 'solid'}};
}

function fireLine(x, y, doy) {
  return {type: 'line', xAxisIndex: x, yAxisIndex: y, data: [], symbol: 'none', silent: true, z: 1,
    markLine: {silent: true, symbol: 'none', label: {show: false}, animation: false,
      lineStyle: {color: '#bebebe', width: 5, type: 'solid'}, data: [{xAxis: doy}]}};
}

function siteSeries(flat, size, fill, edge) {
  return {type: 'scatter', xAxisIndex: 4, yAxisIndex: 4, data: pairs(flat), symbol: 'circle', symbolSize: size, silent: true, z: 5,
    itemStyle: {color: fill, borderColor: edge, borderWidth: 1}};
}

function traceLegend(left, top) {
  return {left: left, top: top, orient: 'vertical', itemWidth: 76, itemHeight: 20, itemGap: 6, selectedMode: false,
    data: ['MSI', 'NIRv'], itemStyle: {opacity: 0},
    formatter: function (n) { return n === 'NIRv' ? 'NIR{sub|v}' : n; },
    textStyle: {fontFamily: FONT, fontSize: 39, lineHeight: 44, color: '#000', padding: [0, 0, 0, 26],
      rich: {sub: {fontFamily: FONT, fontSize: 26, verticalAlign: 'bottom', lineHeight: 44, color: '#000'}}}};
}

var option = {
  backgroundColor: '#fff',
  animation: false,
  title: [
    {text: 'Vegetation and water signals pre and post-fire', left: 307, top: 30,
      textStyle: {fontFamily: FONT, fontSize: 64, fontWeight: 'normal', color: '#000'}},
    {text: 'Vegetation and water Pre-fire signals shaping H{sub|snk}', left: 2213, top: 40,
      textStyle: {fontFamily: FONT, fontSize: 64, fontWeight: 'normal', color: '#000',
        rich: {sub: {fontFamily: FONT, fontSize: 44, verticalAlign: 'bottom', color: '#000'}}}},
    {text: 'c \u00d7 H{sub|sink}', left: 3554, top: 1628,
      textStyle: {fontFamily: FONT, fontSize: 36, fontWeight: 'normal', color: '#000',
        rich: {sub: {fontFamily: FONT, fontSize: 26, verticalAlign: 'bottom', color: '#000'}}}},
    {text: '(kJ m{sup|\u22123})', left: 3571, top: 1676,
      textStyle: {fontFamily: FONT, fontSize: 27, fontWeight: 'normal', color: '#000',
        rich: {sup: {fontFamily: FONT, fontSize: 20, verticalAlign: 'top', color: '#000'}}}}
  ],
  legend: [traceLegend(233, 300), traceLegend(251, 965)],
  grid: [
    {left: 196, top: 274, width: 1651, height: 395, outerBoundsMode: 'none'},
    {left: 196, top: 274, width: 1651, height: 380.5, outerBoundsMode: 'none'},
    {left: 215, top: 940, width: 1650, height: 394, outerBoundsMode: 'none'},
    {left: 215, top: 940, width: 1650, height: 380, outerBoundsMode: 'none'},
    {left: 2226, top: 144, width: 1325, height: 1437, show: true, borderColor: '#666', borderWidth: 2, backgroundColor: '#fff', outerBoundsMode: 'none'},
    {left: 3606, top: 144, width: 43, height: 1437, show: true, borderColor: '#000', borderWidth: 2, outerBoundsMode: 'none'}
  ],
  xAxis: [
    doyAxis(0, -6.85, 316.2, true),
    doyAxis(1, -6.85, 316.2, false),
    doyAxis(2, -6.65, 316.2, true),
    doyAxis(3, -6.65, 316.2, false),
    {type: 'value', gridIndex: 4, min: -0.6995, max: 0.342, position: 'bottom',
      name: 'MSI (-)', nameLocation: 'middle', nameGap: 85, nameTextStyle: {fontFamily: FONT, fontSize: 42, color: '#000'},
      axisLine: {show: true, onZero: false, lineStyle: {color: '#666', width: 2}},
      axisTick: Object.assign({customValues: msiExpTicks}, boxTick),
      axisLabel: {customValues: msiExpTicks, margin: 24, formatter: expLabel, rich: expRich},
      splitLine: {show: false}},
    {type: 'value', gridIndex: 5, min: 0, max: 1, show: false},
    {type: 'value', gridIndex: 4, min: -0.6995, max: 0.342, position: 'top',
      axisLine: {show: true, onZero: false, lineStyle: {color: '#666', width: 2}},
      axisTick: Object.assign({customValues: msiExpTicks}, boxTick),
      axisLabel: {show: false}, splitLine: {show: false}}
  ],
  yAxis: [
    msiAxis(0, -0.087, 2.29),
    nirAxis(1, 0.469),
    msiAxis(2, -0.084, 2.282),
    nirAxis(3, 0.468),
    {type: 'value', gridIndex: 4, min: -1, max: -0.3008, position: 'left',
      name: 'NIR{sub|v} (-)', nameLocation: 'middle', nameRotate: 90, nameGap: 138,
      nameTextStyle: {fontFamily: FONT, fontSize: 42, color: '#000', padding: [0, 10, 0, 0],
        rich: {sub: {fontFamily: FONT, fontSize: 28, verticalAlign: 'bottom', color: '#000'}}},
      axisLine: {show: true, onZero: false, lineStyle: {color: '#666', width: 2}},
      axisTick: Object.assign({customValues: nirExpTicks}, boxTick),
      axisLabel: {customValues: nirExpTicks, margin: 26, formatter: expLabel, rich: expRich},
      splitLine: {show: false}},
    {type: 'value', gridIndex: 5, min: 1.014, max: 9.91, position: 'right',
      axisLine: {show: true, onZero: false, lineStyle: {color: '#000', width: 2}},
      axisTick: {show: true, length: 11, customValues: colorbarTicks, lineStyle: {color: '#333', width: 2}},
      axisLabel: {customValues: colorbarTicks, margin: 22, fontFamily: FONT, fontSize: 33, color: '#000'},
      splitLine: {show: false}},
    {type: 'value', gridIndex: 4, min: -1, max: -0.3008, position: 'right',
      axisLine: {show: true, onZero: false, lineStyle: {color: '#666', width: 2}},
      axisTick: Object.assign({customValues: nirExpTicks}, boxTick),
      axisLabel: {show: false}, splitLine: {show: false}}
  ],
  series: [
    fireLine(0, 0, fireDoyTop),
    traceSeries('MSI', joinSegments(msiTop), 0, 0, false),
    traceSeries('NIRv', joinSegments(nirTop), 1, 1, true),
    fireLine(2, 2, fireDoyBottom),
    traceSeries('MSI', joinSegments(msiBottom), 2, 2, false),
    traceSeries('NIRv', joinSegments(nirBottom), 3, 3, true),
    {type: 'custom', xAxisIndex: 4, yAxisIndex: 4, data: heatCells, renderItem: renderCell, silent: true, progressive: 0, z: 2,
      encode: {x: 0, y: 1}},
    siteSeries(greyOpenPts, 7, 'transparent', 'rgba(70,70,70,0.6)'),
    siteSeries(openPts, 7, 'transparent', 'rgba(30,30,0,0.7)'),
    siteSeries(tealPts, 7, '#30c8a8', 'rgba(0,0,0,0.5)'),
    siteSeries(steelPts, 7, '#3088c8', 'rgba(0,0,0,0.5)'),
    siteSeries(yellowPts, 7, '#f0d820', 'rgba(0,0,0,0.5)'),
    siteSeries(orangePts, 7, '#f07010', 'rgba(0,0,0,0.5)'),
    siteSeries(greenPts, 7, '#58b868', 'rgba(0,0,0,0.35)'),
    siteSeries(navyPts, 7, '#0000a0', 'rgba(0,0,0,0.5)'),
    siteSeries(darkRedPts, 7, '#7a0d00', 'rgba(0,0,0,0.5)'),
    {type: 'line', xAxisIndex: 4, yAxisIndex: 4, data: pairs(limitCurve), symbol: 'none', smooth: 0.3, silent: true, z: 6,
      lineStyle: {color: '#000', width: 4.5, type: [22, 14]}},
    {type: 'custom', xAxisIndex: 5, yAxisIndex: 5, data: barCells, renderItem: renderBar, silent: true, z: 2,
      encode: {y: 0}}
  ]
};

var chart = echarts.init(document.getElementById('chart'), null, {renderer: 'canvas'});
chart.setOption(option);
</script>
</body>
</html>
